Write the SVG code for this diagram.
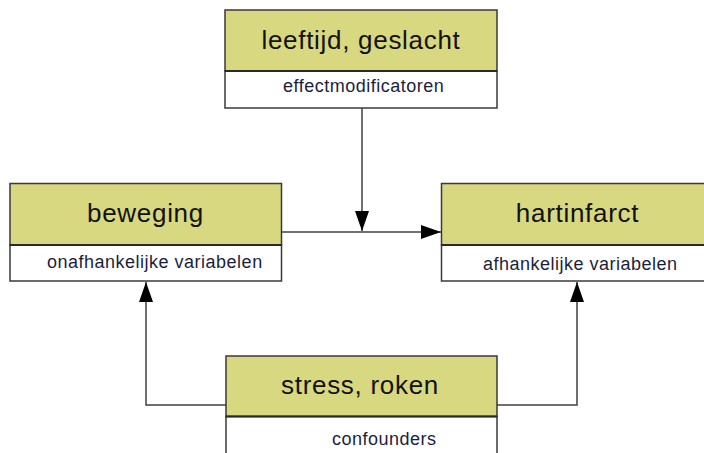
<svg xmlns="http://www.w3.org/2000/svg" width="704" height="453" viewBox="0 0 704 453">
<defs>
<style>
.hdr{fill:#d8d880;stroke:#3a3a3a;stroke-width:1.5}
.sub{fill:#ffffff;stroke:#3a3a3a;stroke-width:1.5}
.div{stroke:#2a2a2a;stroke-width:2}
.title{font-family:"Liberation Sans",Arial,sans-serif;font-size:26px;letter-spacing:0.7px;fill:#111111;text-anchor:middle}
.label{font-family:"Liberation Sans",Arial,sans-serif;font-size:18px;letter-spacing:0.5px;fill:#1c1f3a}
.conn{fill:none;stroke:#404040;stroke-width:1.5}
</style>
<marker id="arrow" markerUnits="userSpaceOnUse" markerWidth="20" markerHeight="14" refX="20" refY="7" orient="auto">
<path d="M0,0 L20,7 L0,14 z" fill="#000000"/>
</marker>
</defs>
<rect width="704" height="453" fill="#ffffff"/>
<g id="connectors">
<path class="conn" d="M362,108 L362,231" marker-end="url(#arrow)"/>
<path class="conn" d="M281.5,232 L441,232" marker-end="url(#arrow)"/>
<path class="conn" d="M226,405 L146,405 L146,282" marker-end="url(#arrow)"/>
<path class="conn" d="M497,405 L577,405 L577,282" marker-end="url(#arrow)"/>
</g>
<g id="node-leeftijd">
<rect class="hdr" x="225" y="10" width="272" height="61"/>
<rect class="sub" x="225" y="71" width="272" height="37"/>
<line class="div" x1="225" y1="71" x2="497" y2="71"/>
<text class="title" x="361" y="49">leeftijd, geslacht</text>
<text class="label" x="283" y="92">effectmodificatoren</text>
</g>
<g id="node-beweging">
<rect class="hdr" x="10" y="183.5" width="271.5" height="61.5"/>
<rect class="sub" x="10" y="245" width="271.5" height="36"/>
<line class="div" x1="10" y1="245" x2="281.5" y2="245"/>
<text class="title" x="145.5" y="222">beweging</text>
<text class="label" x="47" y="268">onafhankelijke variabelen</text>
</g>
<g id="node-hartinfarct">
<rect class="hdr" x="441.5" y="183.5" width="272" height="61.5"/>
<rect class="sub" x="441.5" y="245" width="272" height="36"/>
<line class="div" x1="441.5" y1="245" x2="713.5" y2="245"/>
<text class="title" x="577.5" y="222">hartinfarct</text>
<text class="label" x="483" y="270">afhankelijke variabelen</text>
</g>
<g id="node-stress">
<rect class="hdr" x="226" y="356" width="271" height="60.5"/>
<rect class="sub" x="226" y="416.5" width="271" height="50"/>
<line class="div" x1="226" y1="416.5" x2="497" y2="416.5"/>
<text class="title" x="360" y="394">stress, roken</text>
<text class="label" x="332" y="445">confounders</text>
</g>
</svg>
